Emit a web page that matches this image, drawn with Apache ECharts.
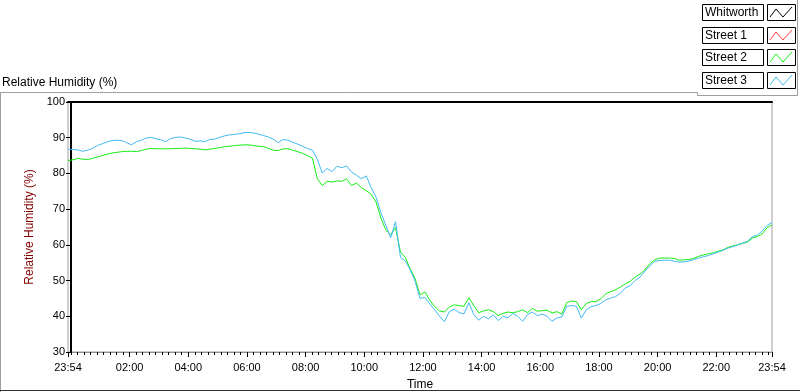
<!DOCTYPE html>
<html>
<head>
<meta charset="utf-8">
<script src="https://cdn.jsdelivr.net/npm/echarts@6/dist/echarts.min.js"></script>
<style>
  html, body { margin: 0; padding: 0; background: #fff; }
  #chart { width: 800px; height: 392px; }
</style>
</head>
<body>
<div id="chart"></div>
<script>
// samples every 10 minutes, starting 23:54 the day before (minute -6)
const startMinute = -6
const stepMinutes = 10

const seriesNames = ['Whitworth', 'Street 1', 'Street 2', 'Street 3']
const seriesColors = ['#000000', '#ff3c3c', '#14ee14', '#42b9f5']

// Whitworth and Street 1 show no trace in the picture
const whitworth = []
const street1 = []

const street2 = [
  83.6, 83.8, 84.2, 84.0, 83.9, 84.2, 84.6, 85.0, 85.4, 85.7,
  85.9, 86.1, 86.2, 86.2, 86.1, 86.4, 86.8, 87.0, 86.9, 86.9,
  86.9, 86.9, 87.0, 87.0, 87.1, 87.0, 86.9, 86.8, 86.6, 86.8,
  87.0, 87.2, 87.5, 87.6, 87.8, 87.9, 88.0, 88.0, 87.8, 87.6,
  87.5, 87.0, 86.5, 86.4, 86.9, 86.9, 86.5, 86.1, 85.6, 85.0,
  84.3, 78.5, 76.6, 77.8, 77.6, 77.9, 77.8, 78.5, 76.6, 77.3,
  76.0, 75.2, 74.2, 72.0, 67.5, 64.2, 62.8, 64.8, 58.0, 56.5,
  53.3, 50.5, 46.0, 46.8, 44.5, 42.7, 41.5, 41.2, 42.6, 43.2,
  43.0, 42.8, 45.2, 43.0, 41.0, 41.5, 41.8, 41.3, 40.2, 40.8,
  41.2, 41.0, 41.3, 41.8, 41.0, 42.2, 41.4, 41.6, 41.7, 40.9,
  41.3, 40.6, 43.8, 44.3, 44.1, 41.8, 43.6, 44.1, 44.1, 44.9,
  46.3, 46.9, 47.4, 48.2, 49.1, 49.8, 51.0, 51.8, 53.0, 54.7,
  55.8, 56.3, 56.3, 56.3, 56.2, 55.7, 55.8, 55.9, 56.2, 56.8,
  57.2, 57.5, 57.8, 58.2, 58.6, 59.3, 59.7, 60.0, 60.4, 60.8,
  61.9, 62.3, 63.1, 64.8, 65.6
]

const street3 = [
  86.8, 86.7, 86.6, 86.2, 86.5, 87.0, 87.8, 88.3, 88.8, 89.2,
  89.3, 89.2, 88.6, 88.0, 88.9, 89.3, 89.9, 90.1, 89.7, 89.4,
  88.9, 89.8, 90.1, 90.2, 89.9, 89.6, 89.0, 89.1, 88.9, 89.5,
  89.6, 90.1, 90.5, 90.8, 90.9, 91.1, 91.4, 91.5, 91.3, 91.0,
  90.6, 90.2, 89.6, 88.6, 89.5, 89.3, 88.7, 88.2, 87.6, 87.0,
  86.5, 84.0, 80.1, 81.4, 80.5, 82.0, 81.6, 82.1, 80.4, 79.5,
  78.5, 79.3, 76.0, 73.4, 69.0, 65.5, 62.0, 66.5, 56.5, 55.5,
  53.0, 49.8, 45.0, 45.3, 43.5, 41.8, 40.0, 38.5, 41.3, 42.0,
  41.0, 40.7, 43.8, 40.5, 38.9, 40.0, 39.3, 40.4, 38.8, 40.0,
  39.6, 40.8, 40.0, 38.6, 40.5, 41.2, 40.2, 40.6, 40.0, 38.6,
  39.5, 39.8, 42.8, 43.0, 42.8, 39.5, 41.8, 42.7, 43.0, 43.6,
  44.6, 45.1, 45.5, 46.5, 47.9, 48.6, 50.0, 51.0, 52.6, 54.1,
  55.4, 55.6, 55.7, 55.7, 55.4, 55.2, 55.2, 55.5, 55.9, 56.3,
  56.7, 57.0, 57.5, 58.0, 58.5, 59.1, 59.5, 60.0, 60.5, 61.0,
  62.3, 62.7, 63.9, 65.4, 66.3
]

// x axis tick labels (minutes from midnight)
const labelMinutes = [-6, 120, 240, 360, 480, 600, 720, 840, 960, 1080, 1200, 1320, 1434]

// minor ticks: the 23:54 start, then every 13 1/3 minutes from 00:00
const minorTicks = [-6]
for (let k = 0; k * 40 / 3 <= 1434; k++) minorTicks.push(k * 40 / 3)

function toPairs(values) {
  return values.map((v, i) => [startMinute + i * stepMinutes, v])
}

function clock(m) {
  m = ((Math.round(m) % 1440) + 1440) % 1440
  let h = Math.floor(m / 60)
  let mm = m % 60
  return String(h).padStart(2, '0') + ':' + String(mm).padStart(2, '0')
}

const font = 'Liberation Sans'
const allData = [whitworth, street1, street2, street3]

// legend panel at the top right
let legendGraphics = []
seriesNames.forEach((name, i) => {
  let b = Math.round(4 + i * 22.7)
  legendGraphics.push({
    type: 'rect', shape: { x: 702.5, y: b + 0.5, width: 61, height: 16 },
    style: { fill: '#fff', stroke: '#000', lineWidth: 1 }
  })
  legendGraphics.push({
    type: 'text', x: 705, y: b + 9,
    style: { text: name, font: '12px ' + font, fill: '#000', textVerticalAlign: 'middle' }
  })
  legendGraphics.push({
    type: 'rect', shape: { x: 767.5, y: b + 0.5, width: 28, height: 16 },
    style: { fill: '#fff', stroke: '#000', lineWidth: 1 }
  })
  legendGraphics.push({
    type: 'polyline',
    shape: { points: [[770, b + 13], [776, b + 5], [783, b + 13], [792, b + 3]] },
    style: { stroke: seriesColors[i], lineWidth: 1, fill: null }
  })
})

const chart = echarts.init(document.getElementById('chart'), null, { renderer: 'canvas' })

const option = {
  animation: false,
  backgroundColor: '#fff',
  textStyle: { fontFamily: font },
  grid: {
    left: 68, right: 28, top: 102, bottom: 40,
    outerBoundsMode: 'none',
    show: true, backgroundColor: '#fff', borderColor: '#a0a0a0', borderWidth: 1
  },
  xAxis: [
    {
      type: 'value', min: -6, max: 1434,
      name: 'Time', nameLocation: 'middle', nameGap: 27,
      nameTextStyle: { color: '#000', fontSize: 12, fontFamily: font },
      axisLine: { lineStyle: { color: '#909090', width: 1 } },
      axisTick: { customValues: minorTicks, length: 3, lineStyle: { color: '#000' } },
      axisLabel: {
        customValues: labelMinutes, formatter: v => clock(v),
        color: '#000', fontSize: 11, fontFamily: font, margin: 10
      },
      splitLine: { show: false }
    },
    {
      type: 'value', min: -6, max: 1434, position: 'bottom',
      axisLine: { show: false },
      axisTick: { customValues: labelMinutes, length: 5, lineStyle: { color: '#000' } },
      axisLabel: { show: false },
      splitLine: { show: false }
    },
    {
      type: 'value', min: -6, max: 1434, position: 'top',
      axisLine: { lineStyle: { color: '#000', width: 2 } },
      axisTick: { show: false },
      axisLabel: { show: false },
      splitLine: { show: false }
    }
  ],
  yAxis: {
    type: 'value', min: 30, max: 100, interval: 10,
    name: 'Relative Humidity (%)', nameLocation: 'middle', nameGap: 28,
    nameTextStyle: { color: '#800000', fontSize: 12, fontFamily: font },
    axisLine: { show: true, lineStyle: { color: '#000', width: 2 } },
    axisTick: { show: true, length: 5, lineStyle: { color: '#000' } },
    axisLabel: { color: '#000', fontSize: 11, fontFamily: font, margin: 3 },
    splitLine: { show: false }
  },
  series: seriesNames.map((name, i) => ({
    name: name,
    type: 'line',
    xAxisIndex: 0,
    data: toPairs(allData[i]),
    showSymbol: false,
    symbol: 'none',
    lineStyle: { color: seriesColors[i], width: 1 },
    itemStyle: { color: seriesColors[i] }
  })),
  graphic: [
    {
      type: 'text', x: 2, y: 83,
      style: { text: 'Relative Humidity (%)', font: '12px ' + font, fill: '#000', textVerticalAlign: 'middle' }
    },
    { type: 'line', shape: { x1: 0, y1: 92.5, x2: 697, y2: 92.5 }, style: { stroke: '#a0a0a0', lineWidth: 1 } },
    { type: 'line', shape: { x1: 0.5, y1: 92, x2: 0.5, y2: 392 }, style: { stroke: '#a0a0a0', lineWidth: 1 } },
    { type: 'line', shape: { x1: 0, y1: 390.5, x2: 800, y2: 390.5 }, style: { stroke: '#303030', lineWidth: 1 } },
    { type: 'line', shape: { x1: 697.5, y1: 92, x2: 697.5, y2: 96 }, style: { stroke: '#a0a0a0', lineWidth: 1 } },
    { type: 'line', shape: { x1: 697, y1: 95.5, x2: 798, y2: 95.5 }, style: { stroke: '#a0a0a0', lineWidth: 1 } },
    { type: 'line', shape: { x1: 797.5, y1: 0, x2: 797.5, y2: 96 }, style: { stroke: '#a0a0a0', lineWidth: 1 } }
  ].concat(legendGraphics)
}

chart.setOption(option)
</script>
</body>
</html>
